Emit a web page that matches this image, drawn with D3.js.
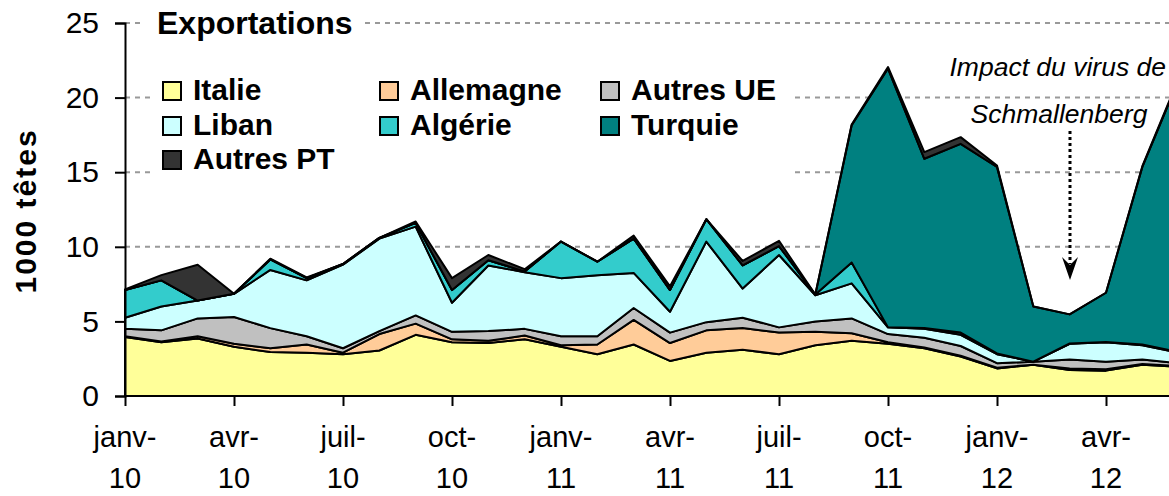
<!DOCTYPE html>
<html>
<head>
<meta charset="utf-8">
<script src="https://cdn.jsdelivr.net/npm/d3@7"></script>
<style>
  body { margin: 0; background: #fff; }
  svg { display: block; font-family: "Liberation Sans", Arial, sans-serif; }
</style>
</head>
<body>
<svg id="chart" width="1169" height="496"></svg>
<script>
// months janv-10 .. juin-12
const months = ['janv-10','févr-10','mars-10','avr-10','mai-10','juin-10','juil-10','août-10','sept-10','oct-10','nov-10','déc-10',
                'janv-11','févr-11','mars-11','avr-11','mai-11','juin-11','juil-11','août-11','sept-11','oct-11','nov-11','déc-11',
                'janv-12','févr-12','mars-12','avr-12','mai-12','juin-12'];

// 1000 têtes
const italie    = [3.95,3.6,3.85,3.3,2.95,2.9,2.8,3.05,4.1,3.6, 3.55,3.8,3.3,2.8,3.45,2.35,2.9,3.1,2.8,3.4, 3.7,3.5,3.2,2.65,1.85,2.1,1.75,1.7,2.1,1.95];
const allemagne = [0.05,0.05,0.15,0.2,0.25,0.55,0.1,1.1,0.75,0.2, 0.15,0.25,0.1,0.65,1.65,1.2,1.5,1.45,1.45,0.9, 0.5,0.1,0.05,0.05,0.05,0,0.1,0.1,0.05,0.05];
const autresUE  = [0.5,0.75,1.2,1.8,1.35,0.55,0.3,0.2,0.55,0.5, 0.65,0.45,0.6,0.55,0.8,0.7,0.55,0.7,0.35,0.7, 1.0,0.55,0.65,0.65,0.3,0.2,0.6,0.5,0.3,0.2];
const liban     = [0.75,1.6,1.2,1.55,3.9,3.75,5.6,6.2,5.95,1.95, 4.4,3.8,3.9,4.1,2.35,1.4,5.4,1.95,4.85,1.75, 2.35,0.45,0.6,0.75,0.6,0,1.05,1.3,0.95,0.7];
const algerie   = [1.85,1.75,0,0,0.7,0.15,0.05,0.05,0.25,0.85, 0.35,0.05,2.45,0.9,2.3,1.45,1.5,1.55,0.6,0.05, 1.4,0,0.05,0.15,0.05,0,0.02,0.02,0.05,0.05];
const turquie   = [0,0,0,0,0,0,0,0,0,0, 0,0,0,0,0,0,0,0,0,0, 9.2,17.35,11.35,12.65,12.5,3.7,1.95,3.3,11.9,18.25];
const autresPT  = [0.05,0.35,2.4,0,0.05,0.05,0,0,0.1,0.8, 0.35,0.15,0,0,0.2,0.25,0,0.3,0.35,0, 0.05,0.1,0.45,0.45,0.1,0,0,0,0.05,0.1];

const seriesNames  = ['Italie','Allemagne','Autres UE','Liban','Algérie','Turquie','Autres PT'];
const seriesValues = [italie, allemagne, autresUE, liban, algerie, turquie, autresPT];
const seriesColors = ['#FFFF99','#FFCC99','#C0C0C0','#CCFFFF','#33CCCC','#008080','#333333'];

const yTicks = [0, 5, 10, 15, 20, 25];

let svg = d3.select('#chart');

let xScale = d3.scaleLinear()
    .domain([0, 27])
    .range([125, 1106]);
let yScale = d3.scaleLinear()
    .domain([0, 25])
    .range([396, 23]);

// table for the stack
let table = months.map(function (m, i) {
    let row = {i: i};
    seriesNames.forEach(function (n, k) { row[n] = seriesValues[k][i]; });
    return row;
});
let stacked = d3.stack().keys(seriesNames)(table);

//gridlines
svg.append('g')
    .selectAll('line')
    .data(yTicks.slice(1))
    .enter()
    .append('line')
    .attr('x1', 125).attr('x2', 1169)
    .attr('y1', d => yScale(d)).attr('y2', d => yScale(d))
    .style('stroke', '#999')
    .style('stroke-width', 2)
    .style('stroke-dasharray', '5,5');

// white boxes behind title / legend
svg.append('rect').attr('x', 145).attr('y', 4).attr('width', 220).attr('height', 40).style('fill', '#fff');
svg.append('rect').attr('x', 150).attr('y', 62).attr('width', 645).attr('height', 122).style('fill', '#fff');

//areas
let area = d3.area()
    .x(d => xScale(d.data.i))
    .y0(d => yScale(d[0]))
    .y1(d => yScale(d[1]));

svg.append('g')
    .selectAll('path')
    .data(stacked)
    .enter()
    .append('path')
    .attr('d', area)
    .style('fill', (d, i) => seriesColors[i])
    .style('stroke', '#000')
    .style('stroke-width', 2)
    .style('stroke-linejoin', 'round');

// y axis
let yAxis = d3.axisLeft(yScale)
    .tickValues(yTicks)
    .tickSize(10)
    .tickPadding(16);
let gy = svg.append('g')
    .attr('transform', 'translate(125,0)')
    .call(yAxis);
gy.select('.domain').style('stroke-width', 2);
gy.selectAll('.tick line').style('stroke-width', 2);
gy.selectAll('text')
    .style('font-size', '30px')
    .style('font-family', '"Liberation Sans", Arial, sans-serif')
    .attr('fill', '#000');

// x axis
let quarterIdx = d3.range(0, months.length, 3);
let xAxis = d3.axisBottom(xScale)
    .tickValues(quarterIdx)
    .tickSize(10)
    .tickFormat('');
let gx = svg.append('g')
    .attr('transform', 'translate(0,396)')
    .call(xAxis);
gx.select('.domain').attr('d', 'M125,0H1180').style('stroke-width', 2);
gx.selectAll('.tick line').style('stroke-width', 2);

let xLabels = svg.append('g')
    .selectAll('text')
    .data(quarterIdx)
    .enter()
    .append('text')
    .attr('x', d => xScale(d))
    .attr('text-anchor', 'middle')
    .style('font-size', '29px');
xLabels.append('tspan')
    .attr('x', d => xScale(d))
    .attr('y', 447)
    .text(d => months[d].split('-')[0] + '-');
xLabels.append('tspan')
    .attr('x', d => xScale(d))
    .attr('y', 488)
    .text(d => months[d].split('-')[1]);

// y label
svg.append('text')
    .attr('transform', 'translate(36,211) rotate(-90)')
    .attr('text-anchor', 'middle')
    .style('font-size', '30px')
    .style('font-weight', 'bold')
    .style('letter-spacing', '2px')
    .text('1000 têtes');

// title
svg.append('text')
    .attr('x', 157).attr('y', 34)
    .style('font-size', '32px')
    .style('font-weight', 'bold')
    .text('Exportations');

//legend
let legendCols = [163, 380, 601];
let legendRows = [100, 135, 169];
let legend = svg.append('g')
    .selectAll('g')
    .data(seriesNames)
    .enter()
    .append('g')
    .attr('transform', (d, i) => `translate(${legendCols[i % 3]}, ${legendRows[Math.floor(i / 3)]})`);
legend.append('rect')
    .attr('x', 0).attr('y', -18)
    .attr('width', 18).attr('height', 18)
    .style('fill', (d, i) => seriesColors[i])
    .style('stroke', '#000')
    .style('stroke-width', 2);
legend.append('text')
    .attr('x', 30).attr('y', 0)
    .style('font-size', '30px')
    .style('font-weight', 'bold')
    .text(d => d);

// annotation
svg.append('text')
    .attr('x', 1166).attr('y', 76)
    .attr('text-anchor', 'end')
    .style('font-size', '26.5px')
    .style('font-style', 'italic')
    .text('Impact du virus de');
svg.append('text')
    .attr('x', 1059).attr('y', 123)
    .attr('text-anchor', 'middle')
    .style('font-size', '26.5px')
    .style('font-style', 'italic')
    .text('Schmallenberg');
svg.append('line')
    .attr('x1', 1070).attr('x2', 1070)
    .attr('y1', 131).attr('y2', 264)
    .style('stroke', '#000')
    .style('stroke-width', 3)
    .style('stroke-dasharray', '3,3');
svg.append('path')
    .attr('d', 'M1062,257 L1070,280 L1078,257 L1070,265 Z')
    .style('fill', '#000');
</script>
</body>
</html>
